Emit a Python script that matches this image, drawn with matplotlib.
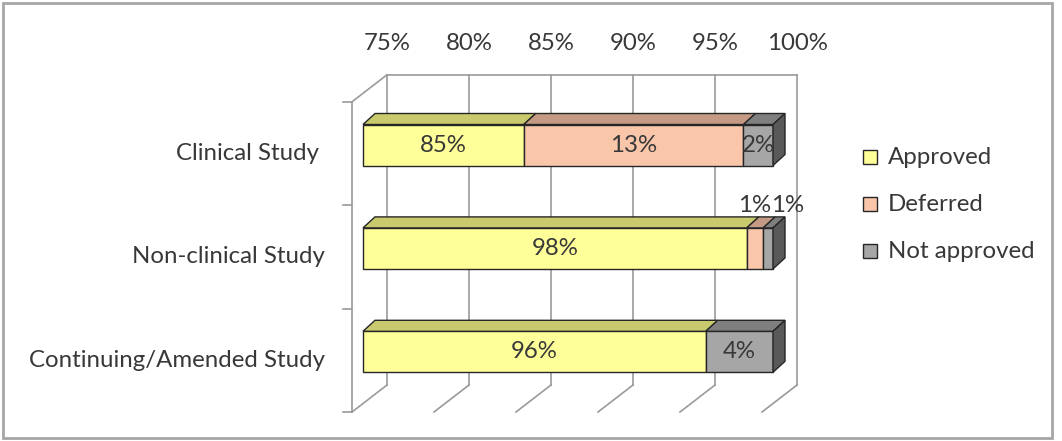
import matplotlib.pyplot as plt
from matplotlib.patches import Polygon, Rectangle

# ------------------------
# Data (shares in %)
# ------------------------
categories = ["Clinical Study ", "Non-clinical Study", "Continuing/Amended Study"]
series = ["Approved", "Deferred", "Not approved"]
approved = [84.8, 98.4, 95.9]
deferred = [13.4, 1.0, 0.0]
not_approved = [1.8, 0.6, 4.1]
tick_values = [75, 80, 85, 90, 95, 100]

front_colors = ["#FFFF99", "#F9C6A9", "#A6A6A6"]
top_colors = ["#C9C96E", "#C49A84", "#7F7F7F"]
side_colors = ["#B3B36B", "#A8826E", "#595959"]
edge = "#262626"
grid_c = "#9a9a9a"
text_c = "#383838"

# ------------------------
# Layout (pixels of 1062x441 figure)
# ------------------------
W, H = 1062, 441
x0_px, ppu = 363, 16.4        # 75% at x=363, px per percent
y0_px, row_px = 145, 103.4    # first row centre, row pitch
bar_h = 41 / row_px           # bar height in row units
depth_bar = (12, -11)         # bar depth in px
depth_wall = (24, -18.5)      # back wall relative to bar front
depth_front = (-11, 8.5)      # front floor edge relative to bar front
xmin = 75

fig = plt.figure(figsize=(W / 100, H / 100), dpi=100)
ax = fig.add_axes([0, 0, 1, 1])
ax.set_xlim(xmin - x0_px / ppu, xmin + (W - x0_px) / ppu)
ax.set_ylim((H - y0_px) / row_px, -y0_px / row_px)
ax.axis("off")


def sh(x, y, d):
    return x + d[0] / ppu, y + d[1] / row_px


def px(xp, yp):
    return xmin + (xp - x0_px) / ppu, (yp - y0_px) / row_px


fs = 17.3
font = "Lato"

# ------------------------
# Walls and grid
# ------------------------
ytop, ybot = -0.5, len(categories) - 0.5
for v in tick_values:
    bx1, by1 = sh(v, ytop, depth_wall)
    bx2, by2 = sh(v, ybot, depth_wall)
    ax.plot([bx1, bx2], [by1, by2], color=grid_c, lw=1.2, zorder=1)
    fx, fy = sh(v, ybot, depth_front)
    ax.plot([bx2, fx], [by2, fy], color=grid_c, lw=1.2, zorder=1)
    ax.text(bx1, px(0, 43)[1], f"{v}%", ha="center", va="center",
            fontsize=fs, color=text_c, family=font)

# top edge of back wall
a = sh(tick_values[0], ytop, depth_wall)
b = sh(tick_values[-1], ytop, depth_wall)
ax.plot([a[0], b[0]], [a[1], b[1]], color=grid_c, lw=1.2, zorder=1)
# left wall
lf_top = sh(xmin, ytop, depth_front)
lf_bot = sh(xmin, ybot, depth_front)
ax.plot([a[0], lf_top[0]], [a[1], lf_top[1]], color=grid_c, lw=1.2, zorder=1)
ax.plot([lf_top[0], lf_bot[0]], [lf_top[1], lf_bot[1]], color=grid_c, lw=1.2, zorder=1)
for k in range(len(categories) + 1):
    tx, ty = sh(xmin, ytop + k, depth_front)
    ax.plot([tx - 9 / ppu, tx], [ty, ty], color=grid_c, lw=1.2, zorder=1)

# ------------------------
# Bars
# ------------------------
values = [approved, deferred, not_approved]
for i, cat in enumerate(categories):
    yc = i
    yt, yb = yc - bar_h / 2, yc + bar_h / 2
    left = 0
    segs = []
    for s in range(len(series)):
        val = values[s][i]
        if val > 0:
            segs.append((s, left, left + val))
        left += val
    for j, (s, l, r) in enumerate(segs):
        l = max(l, xmin)
        # front face
        ax.add_patch(Polygon([(l, yt), (r, yt), (r, yb), (l, yb)], closed=True,
                             fc=front_colors[s], ec=edge, lw=1, zorder=3))
        # top face
        p1, p2 = sh(l, yt, depth_bar), sh(r, yt, depth_bar)
        ax.add_patch(Polygon([(l, yt), (r, yt), p2, p1], closed=True,
                             fc=top_colors[s], ec=edge, lw=1, zorder=3))
        if j == len(segs) - 1:
            p3 = sh(r, yb, depth_bar)
            ax.add_patch(Polygon([(r, yt), p2, p3, (r, yb)], closed=True,
                                 fc=side_colors[s], ec=edge, lw=1, zorder=3))
        # labels
        label = f"{round(values[s][i])}%"
        if r - l < 1.5:
            # tiny segments are labelled above the bar
            ax.annotate(label, ((l + r) / 2, yt), xytext=(14 * (s - 1), 16),
                        textcoords="offset points", ha="center", va="center",
                        fontsize=fs, color=text_c, family=font, zorder=5)
        else:
            ax.text((l + r) / 2, yc, label, ha="center", va="center",
                    fontsize=fs, color=text_c, family=font, zorder=5)
    # category label
    ax.text(px(325, 0)[0], yc + 0.08, cat, ha="right", va="center",
            fontsize=fs, color=text_c, family=font)

# ------------------------
# Legend
# ------------------------
for s, name in enumerate(series):
    lx, ly = px(870, 157 + 47 * s)
    ax.plot([lx], [ly], marker="s", ms=10, mfc=front_colors[s], mec=edge, mew=1)
    ax.text(px(888, 0)[0], ly, name, ha="left", va="center",
            fontsize=fs, color=text_c, family=font)

# outer border
fig.patches.append(Rectangle((3 / W, 3 / H), 1049 / W, 435 / H, transform=fig.transFigure,
                             fill=False, ec="#a6a6a6", lw=2))

plt.savefig("out.png", dpi=100)
